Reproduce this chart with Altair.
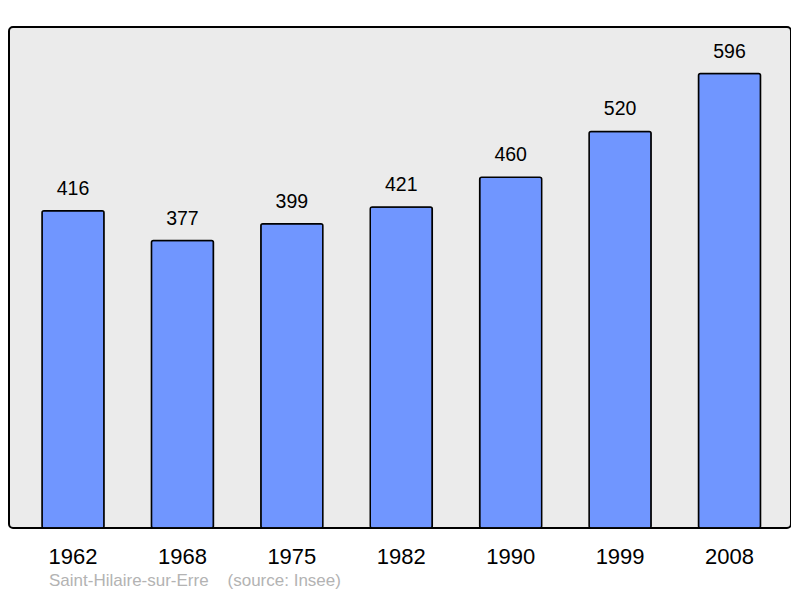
import altair as alt
import pandas as pd

years = ["1962", "1968", "1975", "1982", "1990", "1999", "2008"]
population = [416, 377, 399, 421, 460, 520, 596]

df = pd.DataFrame({"year": years, "pop": population})

x = alt.X("year:N", sort=years,
          scale=alt.Scale(paddingInner=0.433, paddingOuter=0.29, align=0.52),
          axis=alt.Axis(title=None, labelAngle=0, labelFontSize=22, labelColor="#000000",
                        labelFont="Liberation Sans", domain=False, ticks=False,
                        labelPadding=18, grid=False))
y = alt.Y("pop:Q", scale=alt.Scale(domain=[0, 657], nice=False), axis=None)

bars = alt.Chart(df).mark_bar(color="#7096ff", stroke="#000000", strokeWidth=1.5,
                              cornerRadius=2).encode(x=x, y=y)
labels = alt.Chart(df).mark_text(baseline="bottom", dy=-12, fontSize=19.5,
                                 font="Liberation Sans", color="#000000").encode(
    x=x, y=y, text="pop:Q")

chart = alt.layer(bars, labels).properties(
    width=782, height=501,
    autosize=alt.AutoSizeParams(type="none"),
    padding={"left": 1, "top": 19, "right": 0, "bottom": 62},
    title=alt.TitleParams(
        "Saint-Hilaire-sur-Erre\u00a0\u00a0\u00a0\u00a0(source: Insee)",
        orient="bottom", anchor="start", frame="group", dx=40, offset=6,
        fontSize=17, font="Liberation Sans", fontWeight="normal", color="#b3b3b3"),
).configure_view(
    fill="#ebebeb", stroke="#000000", strokeWidth=2, cornerRadius=4
)

chart.save("out.html", embed_options={"renderer": "svg", "actions": False})
